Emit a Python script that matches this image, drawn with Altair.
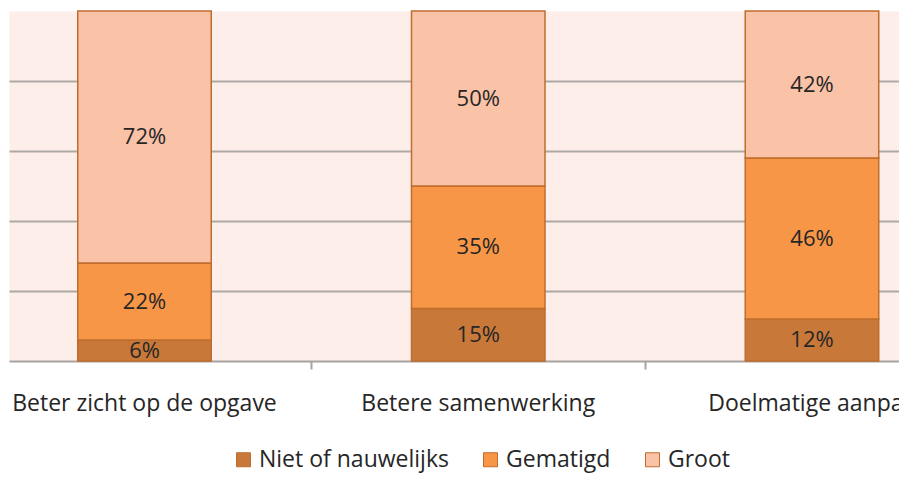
import altair as alt
import pandas as pd

categories = ["Beter zicht op de opgave", "Betere samenwerking", "Doelmatige aanpak"]
levels = ["Niet of nauwelijks", "Gematigd", "Groot"]
niet = [6, 15, 12]
gematigd = [22, 35, 46]
groot = [72, 50, 42]
colors = ["#C8793A", "#F79646", "#FAC2A6"]

rows = []
for i, c in enumerate(categories):
    for j, (lvl, vals) in enumerate(zip(levels, [niet, gematigd, groot])):
        rows.append({"idx": i, "cat": c, "level": lvl, "ord": j, "value": vals[i]})
df = pd.DataFrame(rows)

cat_df = pd.DataFrame({
    "idx": list(range(len(categories))),
    "cat": categories,
    "total": [a + b + c for a, b, c in zip(niet, gematigd, groot)],
})

FONT = "Open Sans"
TXT = "#262626"
xs = alt.Scale(domain=[-0.406, 2.2607], nice=False, zero=False)
ys = alt.Scale(domain=[0, 100], nice=False)
x_axis = alt.Axis(values=[0.5, 1.5], labels=False, ticks=True, tickSize=8,
                  tickColor="#A8A2A0", tickWidth=2, domainColor="#A8A2A0",
                  domainWidth=2, grid=False, title=None)
y_axis = alt.Axis(values=[20, 40, 60, 80], labels=False, ticks=False, domain=False,
                  grid=True, gridColor="#ADA7A5", gridWidth=2, title=None)

shadow = alt.Chart(cat_df).transform_calculate(
    x0="datum.idx - 0.2", x1="datum.idx + 0.2", y0="0"
).mark_rect(color="#7a7a7a", opacity=0.35, xOffset=3, yOffset=1).encode(
    x=alt.X("x0:Q", scale=xs, axis=x_axis),
    x2="x1:Q",
    y=alt.Y("y0:Q", scale=ys, axis=y_axis),
    y2="total:Q",
)

stacked = alt.Chart(df).transform_stack(
    stack="value", groupby=["idx"], as_=["s0", "s1"], sort=[alt.SortField("ord")]
).transform_calculate(
    x0="datum.idx - 0.2", x1="datum.idx + 0.2", mid="(datum.s0 + datum.s1) / 2",
    lbl="datum.value + '%'"
)

bars = stacked.mark_rect(stroke="#BF6D2E", strokeWidth=1.5).encode(
    x=alt.X("x0:Q", scale=xs, axis=x_axis),
    x2="x1:Q",
    y=alt.Y("s0:Q", scale=ys, axis=y_axis),
    y2="s1:Q",
    color=alt.Color("level:N", scale=alt.Scale(domain=levels, range=colors),
                    legend=alt.Legend(title=None, orient="none", direction="horizontal",
                                      legendX=223, legendY=437, symbolType="square",
                                      symbolSize=196, symbolStrokeColor="#BF6D2E",
                                      symbolStrokeWidth=1, labelFontSize=23,
                                      labelFont=FONT, labelColor=TXT,
                                      labelOffset=4, columnPadding=30, padding=0,
                                      labelLimit=400)),
)

pct = stacked.mark_text(fontSize=22, font=FONT, color=TXT).encode(
    x=alt.X("idx:Q", scale=xs, axis=x_axis),
    y=alt.Y("mid:Q", scale=ys, axis=y_axis),
    text="lbl:N",
)

cat_labels = alt.Chart(cat_df).mark_text(fontSize=23, font=FONT, color=TXT,
                                          baseline="alphabetic").encode(
    x=alt.X("idx:Q", scale=xs, axis=x_axis),
    y=alt.value(400),
    text="cat:N",
)

chart = alt.layer(shadow, bars, pct, cat_labels).properties(
    width=890, height=350,
    autosize=alt.AutoSizeParams(type="none"),
    padding={"left": 1, "top": 3, "right": 0, "bottom": 112},
).configure_view(fill="#FDEEE9", strokeOpacity=0)

chart.save("out.html", embed_options={"renderer": "svg", "actions": False})
